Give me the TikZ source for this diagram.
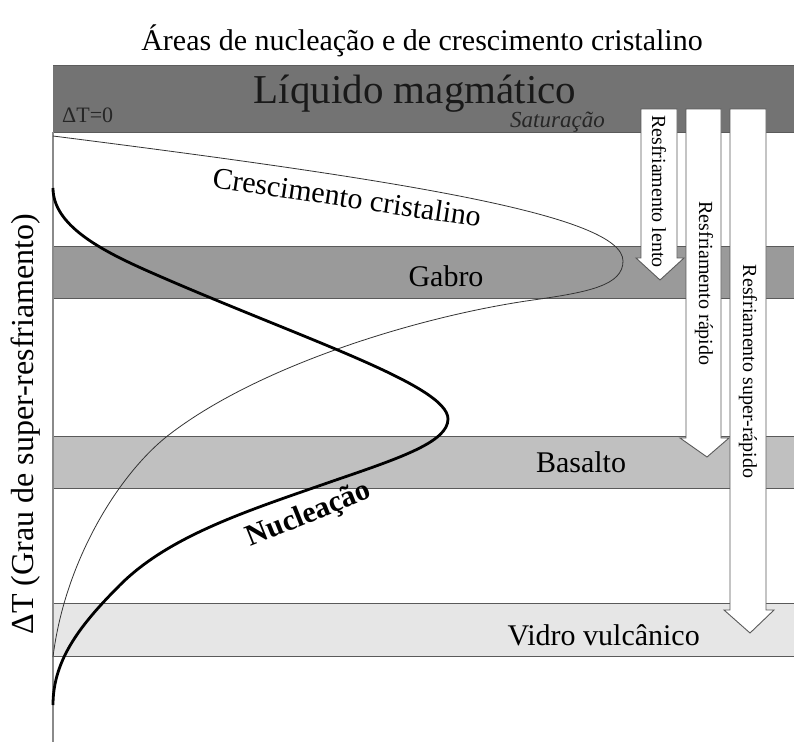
\documentclass[tikz,border=0pt]{standalone}
\usepackage{fontspec}
\setmainfont{Liberation Serif}
\definecolor{liq}{HTML}{737373}
\definecolor{gab}{HTML}{9A9A9A}
\definecolor{bas}{HTML}{C0C0C0}
\definecolor{vid}{HTML}{E6E6E6}
\definecolor{edge}{HTML}{5A5A5A}
\definecolor{axisc}{HTML}{8A8A8A}
\begin{document}
\begin{tikzpicture}[x=1pt,y=-1pt,
  band/.style={draw=edge,line width=1pt},
  lbl/.style={inner sep=0pt,font=\fontsize{30}{36}\selectfont},
  arrlbl/.style={inner sep=0pt,rotate=-90,font=\fontsize{20}{24}\selectfont},
  coolarrow/.style={draw=edge,fill=white,line width=0.9pt,line join=miter},
  thincurve/.style={line width=0.8pt,black!80},
  thickcurve/.style={line width=2.8pt,black}]
\fill[white] (0,0) rectangle (794,742);
\useasboundingbox (0,0) rectangle (794,742);
% bands
\fill[liq] (53,65) rectangle (794,132);
\draw[band,draw=liq!80!black] (53,65) -- (794,65);
\draw[band] (53,132) -- (794,132);
\fill[gab] (53,246) rectangle (794,298);
\draw[band] (53,246) -- (794,246) (53,298) -- (794,298);
\fill[bas] (53,436) rectangle (794,488);
\draw[band] (53,436) -- (794,436) (53,488) -- (794,488);
\fill[vid] (53,603) rectangle (794,656);
\draw[band] (53,603) -- (794,603) (53,656) -- (794,656);
% axis
\draw[axisc,line width=1.6pt] (53,132) -- (53,742);
% curves
\draw[thincurve] (53,136) .. controls (400,180) and (623,215) .. (623,261)
  .. controls (623,285) and (590,292) .. (533,300)
  .. controls (420,316) and (260,365) .. (170,434)
  .. controls (120,472) and (65,560) .. (53,657);
\draw[thickcurve] (53,188) .. controls (53,225) and (100,250) .. (150,272)
  .. controls (300,338) and (448,385) .. (448,419)
  .. controls (448,442) and (400,458) .. (333,481)
  .. controls (250,510) and (170,535) .. (120,585)
  .. controls (80,625) and (53,660) .. (53,705);
% arrows
\draw[coolarrow] (641,109) -- (677,109) -- (677,258) -- (684,258) -- (660,280) -- (636,258) -- (641,258) -- cycle;
\draw[coolarrow] (686,109) -- (721,109) -- (721,438) -- (729,438) -- (707,457) -- (680,438) -- (686,438) -- cycle;
\draw[coolarrow] (730,109) -- (766,109) -- (766,610) -- (774,610) -- (750,633) -- (724,610) -- (730,610) -- cycle;
\node[arrlbl] (lento) at (659,191.5) {Resfriamento lento};
\node[arrlbl] (rapido) at (704,283.5) {Resfriamento rápido};
\node[arrlbl] (super) at (748,371.5) {Resfriamento super-rápido};
% texts
\node[lbl,anchor=base] (title) at (422,50) {Áreas de nucleação e de crescimento cristalino};
\node[inner sep=0pt,anchor=base,font=\fontsize{41}{48}\selectfont,text=black!90] (liquido) at (415,103) {Líquido magmático};
\node[inner sep=0pt,anchor=base west,font=\fontsize{22}{26}\selectfont,text=black!85] (dt0) at (62,122) {ΔT=0};
\node[inner sep=0pt,anchor=base west,font=\fontsize{23}{27}\selectfont\itshape,text=black!85] (sat) at (510,127) {Saturação};
\node[lbl,rotate=-8.5] (cresc) at (347,197) {Crescimento cristalino};
\node[lbl,anchor=base] (gabro) at (446,286) {Gabro};
\node[lbl,anchor=base] (basalto) at (581,472) {Basalto};
\node[lbl,anchor=base east] (vidro) at (700,645) {Vidro vulcânico};
\node[lbl,rotate=22,font=\fontsize{30}{36}\selectfont\bfseries] (nuc) at (309,515) {Nucleação};
\node[inner sep=0pt,rotate=90,font=\fontsize{32}{38}\selectfont] (ylab) at (26,424) {ΔT (Grau de super-resfriamento)};
\end{tikzpicture}
\end{document}
